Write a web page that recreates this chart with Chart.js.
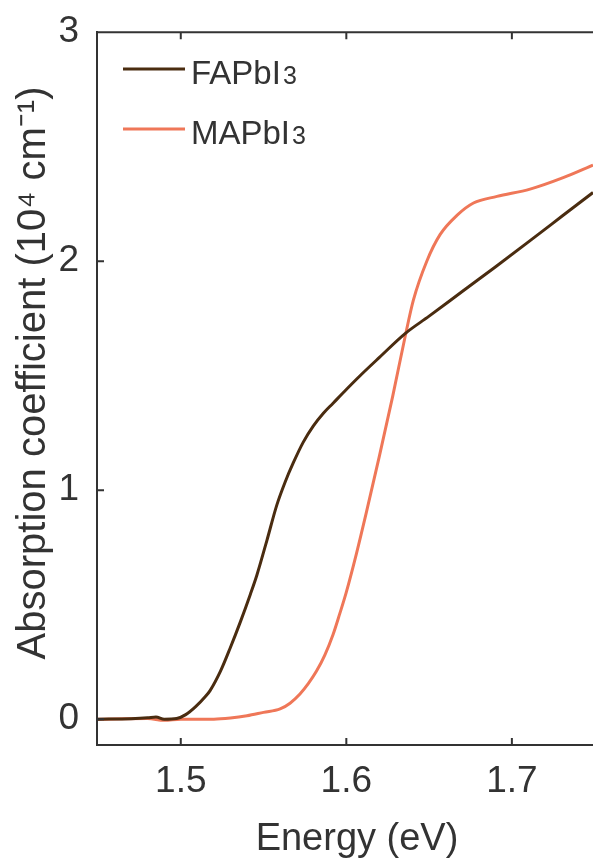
<!DOCTYPE html>
<html>
<head>
<meta charset="utf-8">
<script src="https://cdn.jsdelivr.net/npm/chart.js@4.4.1/dist/chart.umd.min.js"></script>
<style>
  html, body { margin: 0; padding: 0; background: #fff; }
  #wrap { width: 593px; height: 860px; }
</style>
</head>
<body>
<div id="wrap"><canvas id="myChart" width="593" height="860"></canvas></div>
<script>
// series (energy in eV, absorption in 10^4 cm^-1)
const seriesNames = ['FAPbI3', 'MAPbI3'];
const seriesColors = ['#4a2c10', '#ef7758'];

const energyFA = [1.45, 1.47, 1.48, 1.485, 1.49, 1.4975, 1.503, 1.509, 1.515, 1.5177, 1.524, 1.5298, 1.536, 1.542, 1.546, 1.552, 1.558, 1.563, 1.568, 1.574, 1.58, 1.586, 1.592, 1.6, 1.6083, 1.62, 1.6355, 1.65, 1.67, 1.69, 1.711, 1.73, 1.749];
const absFA = [0.0, 0.002, 0.006, 0.01, 0.0, 0.003, 0.02, 0.055, 0.1, 0.125, 0.21, 0.31, 0.425, 0.545, 0.63, 0.78, 0.935, 1.035, 1.12, 1.21, 1.28, 1.335, 1.38, 1.44, 1.5, 1.58, 1.684, 1.76, 1.868, 1.975, 2.09, 2.195, 2.3];

const energyMA = [1.45, 1.48, 1.49, 1.5, 1.52, 1.53, 1.54, 1.55, 1.56, 1.566, 1.572, 1.577, 1.582, 1.587, 1.592, 1.596, 1.6, 1.606, 1.612, 1.62, 1.628, 1.6355, 1.6405, 1.6486, 1.6567, 1.6668, 1.6768, 1.691, 1.711, 1.731, 1.749];
const absMA = [0.0, 0.003, -0.005, 0.0, 0.0, 0.005, 0.015, 0.03, 0.045, 0.07, 0.11, 0.155, 0.21, 0.28, 0.37, 0.46, 0.555, 0.72, 0.9, 1.15, 1.41, 1.67, 1.83, 2.0, 2.117, 2.2, 2.254, 2.283, 2.315, 2.365, 2.42];

const xTicks = [1.5, 1.6, 1.7];
const yTicks = [0, 1, 2, 3];

const xTitle = 'Energy (eV)';
const yTitle = 'Absorption coefficient (10\u2074 cm\u207B\u00B9)';

const FONT = "'Liberation Sans', Arial, sans-serif";
const INK = '#333333';

function toPoints(xs, ys) {
    return xs.map((x, i) => ({ x: x, y: ys[i] }));
}

// inward tick marks, top frame line, axis titles and legend
const decorations = {
    id: 'decorations',
    afterDraw(chart) {
        const c = chart.ctx;
        const a = chart.chartArea;
        const xs = chart.scales.x;
        const ys = chart.scales.y;
        c.save();
        c.strokeStyle = INK;
        c.lineWidth = 2;
        c.beginPath();
        c.moveTo(a.left - 1, a.top);
        c.lineTo(a.right, a.top);
        xTicks.forEach(v => {
            const px = xs.getPixelForValue(v);
            c.moveTo(px, a.bottom);
            c.lineTo(px, a.bottom - 7);
            c.moveTo(px, a.top);
            c.lineTo(px, a.top + 7);
        });
        yTicks.forEach(v => {
            const py = ys.getPixelForValue(v);
            c.moveTo(a.left, py);
            c.lineTo(a.left + 7, py);
        });
        c.stroke();

        // x axis title
        c.fillStyle = INK;
        c.font = '38px ' + FONT;
        c.textAlign = 'center';
        c.textBaseline = 'alphabetic';
        c.fillText(xTitle, 357, 850);

        // y axis title
        c.font = '40px ' + FONT;
        c.translate(45, 373);
        c.rotate(-Math.PI / 2);
        c.fillText(yTitle, 0, 0);
        c.restore();

        // legend
        c.save();
        chart.data.datasets.forEach((ds, i) => {
            const ly = 69 + i * 60;
            c.strokeStyle = ds.borderColor;
            c.lineWidth = 3;
            c.beginPath();
            c.moveTo(123, ly);
            c.lineTo(185, ly);
            c.stroke();
            const base = ds.label.slice(0, -1);
            const sub = ds.label.slice(-1);
            c.fillStyle = INK;
            c.textAlign = 'left';
            c.textBaseline = 'alphabetic';
            c.font = '33px ' + FONT;
            c.fillText(base, 191, ly + 15);
            const w = c.measureText(base).width;
            c.font = '25px ' + FONT;
            c.fillText(sub, 191 + w + 2, ly + 15);
        });
        c.restore();
    }
};

const ctx = document.getElementById('myChart');

new Chart(ctx, {
    type: 'line',
    data: {
        datasets: [{
            label: seriesNames[0],
            data: toPoints(energyFA, absFA),
            borderColor: seriesColors[0],
            borderWidth: 3,
            pointRadius: 0,
            cubicInterpolationMode: 'monotone'
        }, {
            label: seriesNames[1],
            data: toPoints(energyMA, absMA),
            borderColor: seriesColors[1],
            borderWidth: 3,
            pointRadius: 0,
            cubicInterpolationMode: 'monotone'
        }]
    },
    options: {
        responsive: false,
        animation: false,
        devicePixelRatio: 1,
        layout: { padding: { top: 26, right: 0, left: 0, bottom: 0 } },
        plugins: {
            legend: { display: false },
            tooltip: { enabled: false }
        },
        scales: {
            x: {
                type: 'linear',
                min: 1.4494,
                max: 1.749,
                afterBuildTicks: s => { s.ticks = xTicks.map(v => ({ value: v })); },
                afterFit: s => { s.height = 115; },
                grid: { display: false },
                border: { color: INK, width: 2 },
                ticks: {
                    color: INK,
                    font: { family: FONT, size: 37 },
                    padding: 7,
                    maxRotation: 0,
                    callback: v => v.toFixed(1)
                }
            },
            y: {
                type: 'linear',
                min: -0.1126,
                max: 3,
                afterBuildTicks: s => { s.ticks = yTicks.map(v => ({ value: v })); },
                afterFit: s => { s.width = 97; },
                grid: { display: false },
                border: { color: INK, width: 2 },
                ticks: {
                    color: INK,
                    font: { family: FONT, size: 37 },
                    padding: 10,
                    callback: v => String(v)
                }
            }
        }
    },
    plugins: [decorations]
});
</script>
</body>
</html>
